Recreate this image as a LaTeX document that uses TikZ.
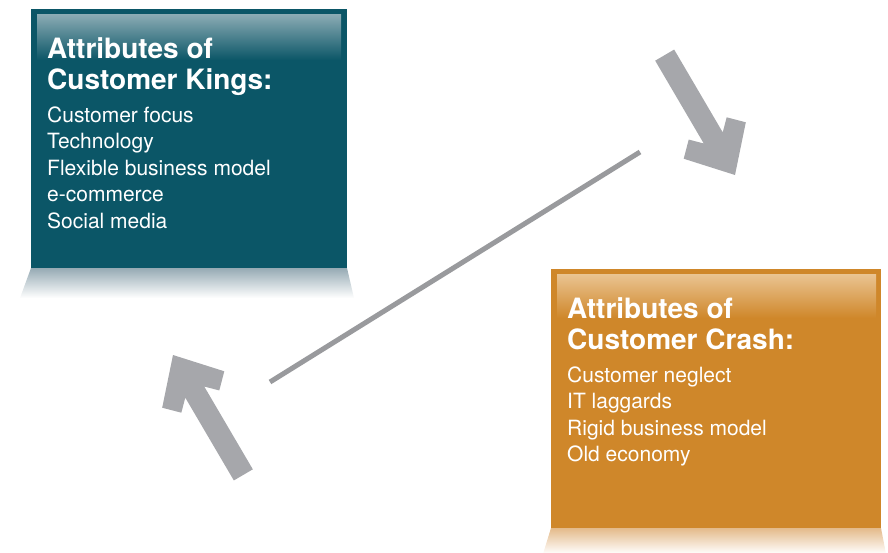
\documentclass[tikz,border=0pt]{standalone}
\usepackage{fontspec}
\setmainfont{TeX Gyre Heros}
\definecolor{kingteal}{RGB}{11,86,103}
\definecolor{kingfade}{RGB}{140,172,181}
\definecolor{kingshadow}{RGB}{150,170,180}
\definecolor{crashorange}{RGB}{207,135,42}
\definecolor{crashfade}{RGB}{234,196,146}
\definecolor{crashshadow}{RGB}{228,186,138}
\definecolor{arrowgray}{RGB}{166,167,171}

\tikzset{
  headline/.style={anchor=north west, inner sep=0pt, text=white, align=left,
    font=\fontsize{28}{31}\selectfont\bfseries},
  itemlist/.style={anchor=north west, inner sep=0pt, text=white, align=left,
    font=\fontsize{21}{26.5}\selectfont},
  fatarrow/.pic={
    \fill[arrowgray] (0,0) -- (-40,36) -- (-54,22) -- (-43,11) -- (-139,11)
      -- (-139,-11) -- (-43,-11) -- (-54,-22) -- (-40,-36) -- cycle;
  },
}

\begin{document}
\begin{tikzpicture}[x=1pt, y=-1pt]
    \useasboundingbox (0,0) rectangle (888,552);
    % left box
    \shade[top color=kingshadow, bottom color=white] (31,268) -- (347,268) -- (354,298) -- (20,298) -- cycle;
    \fill[kingteal] (31,9) rectangle (347,268);
    \shade[top color=kingfade, bottom color=kingteal] (37,14) rectangle (341,60);
    \node[headline] (kt) at (47,37.5) {Attributes of\\Customer Kings:};
    \node[itemlist] (kl) at (47,106.5) {Customer focus\\Technology\\Flexible business model\\e-commerce\\Social media};
    % right box
    \shade[top color=crashshadow, bottom color=white] (551,528) -- (881,528) -- (886,554) -- (543,554) -- cycle;
    \fill[crashorange] (551,269) rectangle (881,528);
    \shade[top color=crashfade, bottom color=crashorange] (557,274) rectangle (876,318);
    \node[headline] (ct) at (567,297.5) {Attributes of\\Customer Crash:};
    \node[itemlist] (cl) at (567,366.5) {Customer neglect\\IT laggards\\Rigid business model\\Old economy};
    % arrows and link
    \pic[rotate=-59.6] (down) at (735,175) {fatarrow};
    \pic[rotate=120.4] (up) at (173,355) {fatarrow};
    \coordinate (a) at (270,382);
    \coordinate (b) at (640,152);
    \draw[arrowgray!92!black, line width=5pt] (a) -- (b);
\end{tikzpicture}
\end{document}
